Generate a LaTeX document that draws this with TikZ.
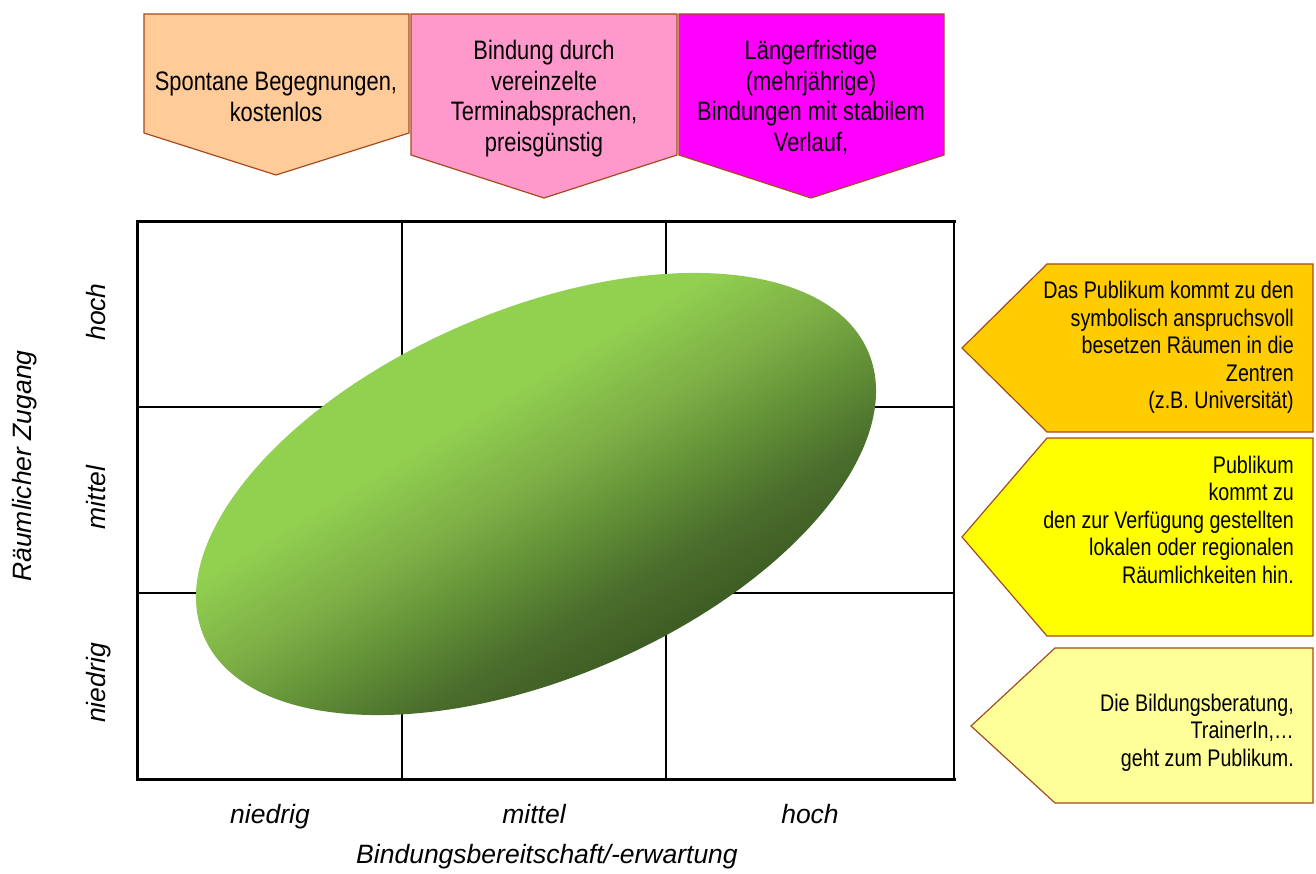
\documentclass[tikz,border=0pt]{standalone}
\usepackage{fontspec}
\setmainfont{Liberation Sans}
\newfontfamily\boxfont{Liberation Sans}[FakeStretch=0.82]
\definecolor{peach}{HTML}{FFCC99}
\definecolor{pinkc}{HTML}{FF99CC}
\definecolor{magc}{HTML}{FF00FF}
\definecolor{orangec}{HTML}{FFCC00}
\definecolor{yellowc}{HTML}{FFFF00}
\definecolor{lyellowc}{HTML}{FFFF99}
\definecolor{edgec}{RGB}{165,75,30}
\definecolor{glight}{HTML}{92D050}
\definecolor{gml}{HTML}{7DAF46}
\definecolor{gmid}{HTML}{5F8C35}
\definecolor{gdk}{HTML}{4A6D2C}
\definecolor{gdark}{HTML}{3F5E25}
\pgfdeclareverticalshading{ellshade}{100bp}{color(0bp)=(gdark); color(25bp)=(gdark); color(32bp)=(gdk); color(40bp)=(gmid); color(50bp)=(gml); color(61bp)=(glight); color(100bp)=(glight)}
\begin{document}
\begin{tikzpicture}[x=1pt,y=-1pt,
  shapebox/.style={draw=edgec,line width=1.2pt,line join=miter},
  toptext/.style={font=\boxfont\fontsize{26.7}{30.7}\selectfont,align=center,inner sep=0pt},
  sidetext/.style={font=\boxfont\fontsize{24}{27.5}\selectfont,align=right,inner sep=0pt,anchor=east},
  axislabel/.style={font=\itshape\fontsize{26.5}{30}\selectfont,inner sep=0pt,anchor=base},
  gridthin/.style={line width=1.5pt,black},
  gridthick/.style={line width=3pt,black,line cap=rect}]
\useasboundingbox[fill=white] (0,0) rectangle (1316,874);

% top pentagons
\filldraw[shapebox,fill=peach] (144,14) -- (409,14) -- (409,133) -- (276,175) -- (144,133) -- cycle;
\filldraw[shapebox,fill=pinkc] (411,14) -- (677,14) -- (677,155) -- (544,198) -- (411,155) -- cycle;
\filldraw[shapebox,fill=magc] (679,14) -- (944,14) -- (944,155) -- (811,198) -- (679,155) -- cycle;

% right pentagons
\filldraw[shapebox,fill=orangec] (1313,264) -- (1313,432) -- (1047,432) -- (962,348) -- (1047,264) -- cycle;
\filldraw[shapebox,fill=yellowc] (1313,438) -- (1313,636) -- (1047,636) -- (962,537) -- (1047,438) -- cycle;
\filldraw[shapebox,fill=lyellowc] (1313,648) -- (1313,803) -- (1055,803) -- (971,726) -- (1055,648) -- cycle;

% grid
\draw[gridthin] (402,222) -- (402,779);
\draw[gridthin] (666,222) -- (666,779);
\draw[gridthin] (137,407) -- (954,407);
\draw[gridthin] (137,593) -- (954,593);
\draw[gridthin] (954,222) -- (954,779);
\draw[gridthick] (954,222) -- (137,222) -- (137,779) -- (954,779);

% ellipse (gradient across it, a little steeper than its major axis)
\begin{scope}[transform canvas={rotate around={31:(536,494)}}]
  \shade[shading=ellshade,rotate around={-7.8:(536,494)}] (536,494) ellipse [x radius=361.4pt, y radius=184pt];
\end{scope}

% top texts
\node[toptext] (t1) at (276,100) {\strut Spontane Begegnungen,\\ kostenlos\strut};
\node[toptext] (t2) at (544,99.5) {\strut Bindung durch\\ vereinzelte\\ Terminabsprachen,\\ preisgünstig\strut};
\node[toptext] (t3) at (811,99.5) {\strut Längerfristige\\ (mehrjährige)\\ Bindungen mit stabilem\\ Verlauf,\strut};

% side texts
\node[sidetext] (s1) at (1294,348) {\strut Das Publikum kommt zu den\\ symbolisch anspruchsvoll\\ besetzen Räumen in die\\ Zentren\\ (z.B. Universität)\strut};
\node[sidetext] (s2) at (1294,522.7) {\strut Publikum\\ kommt zu\\ den zur Verfügung gestellten\\ lokalen oder regionalen\\ Räumlichkeiten hin.\strut};
\node[sidetext] (s3) at (1294,733) {\strut Die Bildungsberatung,\\ TrainerIn,…\\ geht zum Publikum.\strut};

% axis labels
\node[axislabel] (xl1) at (270,823) {niedrig};
\node[axislabel] (xl2) at (534,823) {mittel};
\node[axislabel] (xl3) at (810,823) {hoch};
\node[axislabel] (xt) at (547,863) {Bindungsbereitschaft/-erwartung};
\node[axislabel,rotate=90] (yl3) at (105,312) {hoch};
\node[axislabel,rotate=90] (yl2) at (105,497.5) {mittel};
\node[axislabel,rotate=90] (yl1) at (105,683) {niedrig};
\node[axislabel,rotate=90] (yt) at (31,466) {Räumlicher Zugang};
\end{tikzpicture}
\end{document}
